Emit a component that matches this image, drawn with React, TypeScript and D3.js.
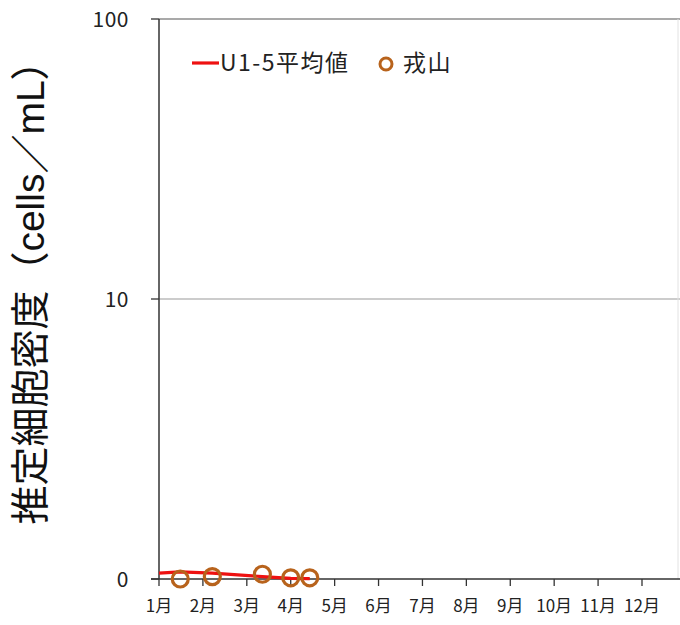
import React from "react";
import * as d3 from "d3";

const monthLabels = ["1月", "2月", "3月", "4月", "5月", "6月", "7月", "8月", "9月", "10月", "11月", "12月"];
const yTicks = [1, 10, 100];
const yTickLabels = ["0", "10", "100"];

// 戎山 measurements (date as [month, day], cells/mL)
const siteDates: [number, number][] = [[1, 16], [2, 7], [3, 12], [4, 1], [4, 14]];
const siteValues = [0, 0.02, 0.04, 0.01, 0.01];

// U1-5 average
const avgDates: [number, number][] = [[1, 1], [1, 16], [2, 7], [3, 12], [4, 1], [4, 14]];
const avgValues = [0.05, 0.06, 0.05, 0.02, 0.005, 0.003];

const daysIn = [31, 28, 31, 30, 31, 30, 31, 31, 30, 31, 30, 31];
const toMonth = ([m, d]: [number, number]) => m - 1 + (d - 1) / daysIn[m - 1];

const W = 680, H = 625;
const L = 159, R = 678, T = 19, B = 579;

export default function App() {
  const x = d3.scaleLinear().domain([0, 11.82]).range([L, R]);
  const y = d3.scaleLog().domain([1, 100]).range([B, T]);
  const line = d3.line<[number, number]>().x(d => x(d[0])).y(d => y(d[1] + 1));
  const avgPts: [number, number][] = avgDates.map((d, i) => [toMonth(d), avgValues[i]]);
  const sitePts: [number, number][] = siteDates.map((d, i) => [toMonth(d), siteValues[i]]);
  const jp = "'Noto Sans CJK JP', sans-serif";
  return (
    <div style={{ position: "absolute", left: 0, top: 0 }}>
      <svg width={W} height={H} style={{ display: "block", background: "#fff" }}>
        {/* gridlines */}
        {yTicks.slice(1).map(t => (
          <line key={t} x1={L} x2={W} y1={y(t)} y2={y(t)} stroke={t === 100 ? "#555" : "#999"} strokeWidth={1.2} />
        ))}
        <line x1={R} x2={R} y1={T} y2={B} stroke="#e2e2e2" strokeWidth={1} />
        {/* y axis */}
        <line x1={L} x2={L} y1={T} y2={B} stroke="#333" strokeWidth={1.5} />
        {yTicks.map((t, i) => (
          <g key={t}>
            <line x1={L - 8} x2={L} y1={y(t)} y2={y(t)} stroke="#333" strokeWidth={1.3} />
            <text x={129} y={y(t)} dy="0.36em" textAnchor="end" fontFamily={jp} fontSize={21} fill="#222" letterSpacing={0.5}>
              {yTickLabels[i]}
            </text>
          </g>
        ))}
        {/* x axis */}
        <line x1={L - 8} x2={W} y1={B} y2={B} stroke="#333" strokeWidth={1.5} />
        {monthLabels.map((m, i) => (
          <g key={m}>
            <line x1={x(i)} x2={x(i)} y1={B} y2={B + 7} stroke="#333" strokeWidth={1.3} />
            <text x={x(i)} y={612} textAnchor="middle" fontFamily={jp} fontSize={17} fill="#222">
              {m}
            </text>
          </g>
        ))}
        {/* data */}
        <path d={line(avgPts) || ""} fill="none" stroke="#ee1111" strokeWidth={3.2} />
        {sitePts.map((p, i) => (
          <circle key={i} cx={x(p[0])} cy={y(p[1] + 1)} r={8} fill="none" stroke="#b8631c" strokeWidth={3.2} />
        ))}
        {/* legend */}
        <line x1={192} x2={219} y1={63} y2={63} stroke="#ee1111" strokeWidth={3.2} />
        <text x={220} y={63} dy="0.36em" fontFamily={jp} fontSize={23} fill="#222" letterSpacing={1.5}>U1-5平均値</text>
        <circle cx={386} cy={64} r={6} fill="none" stroke="#b8631c" strokeWidth={3} />
        <text x={403} y={63} dy="0.36em" fontFamily={jp} fontSize={23} fill="#222" letterSpacing={1.5}>戎山</text>
        {/* y title */}
        <text
          transform={`translate(44,283) rotate(-90)`}
          textAnchor="middle"
          fontFamily={"'Liberation Sans', 'Noto Sans CJK JP', sans-serif"}
          fontSize={39}
          fill="#111"
        >
          推定細胞密度（cells／mL）
        </text>
      </svg>
    </div>
  );
}
